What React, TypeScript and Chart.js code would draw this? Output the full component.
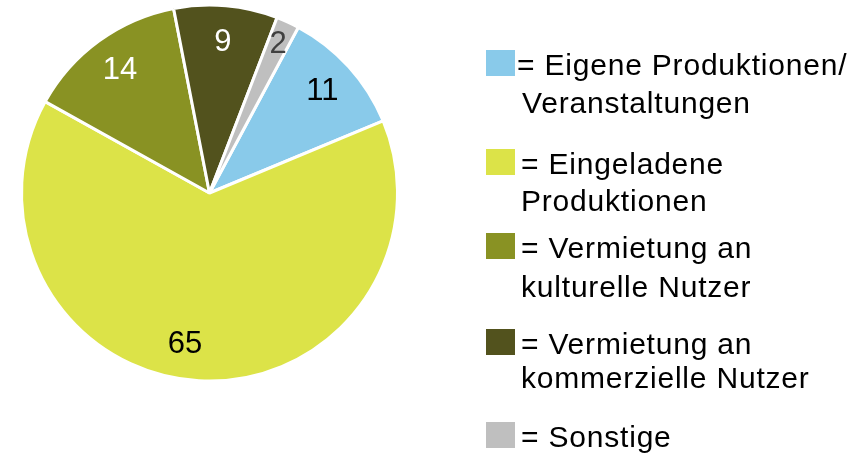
import React, { useEffect, useRef } from 'react';
import { Chart, registerables } from 'chart.js';

Chart.register(...registerables);

// ---- data ----
const categories = [
  'Eigene Produktionen/Veranstaltungen',
  'Eingeladene Produktionen',
  'Vermietung an kulturelle Nutzer',
  'Vermietung an kommerzielle Nutzer',
  'Sonstige',
];
const values = [11, 65, 14, 9, 2];
const legendLines = [
  ['= Eigene Produktionen/', 'Veranstaltungen'],
  ['= Eingeladene', 'Produktionen'],
  ['= Vermietung an', 'kulturelle Nutzer'],
  ['= Vermietung an', 'kommerzielle Nutzer'],
  ['= Sonstige'],
];

// ---- styles / layout ----
const colors = ['#89CAEA', '#DCE348', '#899223', '#52521D', '#BFBFBF'];
const labelColors = ['#000000', '#000000', '#FFFFFF', '#FFFFFF', '#404040'];
const labelAngleNudgeDeg = [0, 6, 0, 0, 0];
const FONT = '"Liberation Sans", Arial, Helvetica, sans-serif';
const legendBaselines = [75, 174, 258, 354, 447];
const legendLineGaps = [38, 37, 39, 34, 0];
const legendFirstX = [517, 521, 521, 521, 521];
const legendSecondX = [522, 521, 521, 521, 521];

const labelPlugin = {
  id: 'sliceLabels',
  afterDatasetsDraw(chart: any) {
    const ctx = chart.ctx;
    const meta = chart.getDatasetMeta(0);
    ctx.save();
    ctx.font = `31px ${FONT}`;
    ctx.textAlign = 'center';
    ctx.textBaseline = 'middle';
    meta.data.forEach((arc: any, i: number) => {
      const { x, y, startAngle, endAngle, outerRadius } = arc.getProps(
        ['x', 'y', 'startAngle', 'endAngle', 'outerRadius'],
        true
      );
      const mid = (startAngle + endAngle) / 2 + (labelAngleNudgeDeg[i] * Math.PI) / 180;
      const span = endAngle - startAngle;
      const f = span < 0.2 ? 0.875 : 0.81;
      const r = outerRadius * f;
      ctx.fillStyle = labelColors[i];
      ctx.fillText(String(values[i]), x + Math.cos(mid) * r, y + Math.sin(mid) * r + 1);
    });
    ctx.restore();
  },
};

const legendPlugin = {
  id: 'sideLegend',
  afterDraw(chart: any) {
    const ctx = chart.ctx;
    ctx.save();
    ctx.font = `30px ${FONT}`;
    try {
      (ctx as any).letterSpacing = '0.8px';
    } catch (e) {}
    ctx.textAlign = 'left';
    ctx.textBaseline = 'alphabetic';
    legendLines.forEach((lines, i) => {
      const b = legendBaselines[i];
      ctx.fillStyle = colors[i];
      ctx.fillRect(486, b - 25, 29, 26);
      ctx.fillStyle = '#000000';
      ctx.fillText(lines[0], legendFirstX[i], b);
      if (lines[1]) ctx.fillText(lines[1], legendSecondX[i], b + legendLineGaps[i]);
    });
    ctx.restore();
  },
};

export default function App() {
  const ref = useRef<HTMLCanvasElement | null>(null);
  useEffect(() => {
    if (!ref.current) return;
    const chart = new Chart(ref.current, {
      type: 'pie',
      data: {
        labels: categories,
        datasets: [
          {
            data: values,
            backgroundColor: colors,
            borderColor: '#FFFFFF',
            borderWidth: 3,
          },
        ],
      },
      options: {
        responsive: false,
        animation: false,
        rotation: 28.2,
        layout: { padding: { top: 3.5, bottom: 70.5, left: 20, right: 467 } },
        plugins: {
          legend: { display: false },
          tooltip: { enabled: false },
        },
      },
      plugins: [labelPlugin, legendPlugin],
    });
    return () => chart.destroy();
  }, []);
  return (
    <div style={{ position: 'fixed', left: 0, top: 0, width: 866, height: 453, background: '#fff' }}>
      <canvas ref={ref} width={866} height={453} />
    </div>
  );
}
